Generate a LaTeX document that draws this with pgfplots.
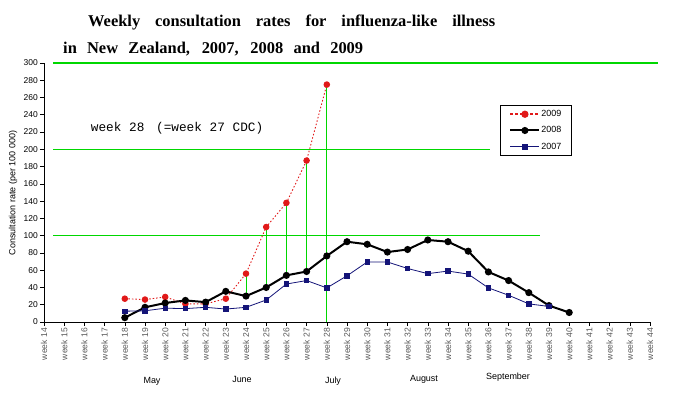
\documentclass[border=0pt]{standalone}
\usepackage{fontspec}
\setmainfont{Liberation Sans}
\newfontfamily\titlefont{Liberation Serif}
\newfontfamily\cour{Liberation Mono}
\usepackage{pgfplots}
\pgfplotsset{compat=1.18}
\definecolor{red09}{RGB}{225,25,25}
\definecolor{navy07}{RGB}{20,20,120}
\definecolor{gline}{RGB}{0,215,0}
\begin{document}
\begin{tikzpicture}
\useasboundingbox (0bp,0bp) rectangle (700bp,400bp);
\begin{axis}[
  at={(44bp,78bp)}, anchor=south west,
  width=606bp, height=259bp, scale only axis,
  xmin=14, xmax=44, ymin=0, ymax=300,
  clip=false,
  axis lines=left,
  axis line style={-, black, line width=0.8bp},
  /pgf/number format/assume math mode=true,
  xtick={14,...,44},
  xticklabel={week \pgfmathprintnumber{\tick}},
  xticklabel style={rotate=90, anchor=east, font=\fontsize{8.6}{9}\selectfont, text=black!65, inner sep=2bp},
  ytick={0,20,...,300},
  yticklabel style={font=\fontsize{8.5}{10}\selectfont, inner sep=2bp},
  tick align=outside, major tick length=4bp,
  tick style={black, line width=0.6bp},
  legend style={at={(rel axis cs:0.7525,0.838)}, anchor=north west, draw=black, line width=0.8bp,
    font=\fontsize{9}{10}\selectfont, inner xsep=9bp, inner ysep=4bp, row sep=6.5bp,
    nodes={inner sep=1bp}},
  legend cell align=left,
  legend image code/.code={\draw[mark repeat=2,mark phase=2,#1] plot coordinates {(0bp,0bp) (14.5bp,0bp) (29bp,0bp)};},
]
% green guide lines (background)
\addplot[gline, line width=1.4bp, forget plot] coordinates {(14.45,300)(44.4,300)};
\addplot[gline, line width=1.4bp, forget plot] coordinates {(14.45,200)(36.1,200)};
\addplot[gline, line width=1.4bp, forget plot] coordinates {(14.45,100)(38.55,100)};
% 2009
\addplot[red09, line width=0.9bp, dash pattern=on 1.5bp off 2bp, mark=*, mark size=2.8bp, mark options={solid, fill=red09, draw=red09},
  legend image code/.code={\draw[mark repeat=2,mark phase=2,red09,line width=1.6bp,dash pattern=on 3bp off 2bp,mark=*,mark size=2.8bp,mark options={solid,fill=red09}] plot coordinates {(0bp,0bp) (14.5bp,0bp) (29bp,0bp)};}]
  coordinates {(18,27)(19,26)(20,29)(21,21)(22,21)(23,27)(24,56)(25,110)(26,138)(27,187)(28,275)};
\addlegendentry{2009}
% 2008
\addplot[black, line width=2bp, mark=*, mark size=2.5bp, mark options={solid, fill=black}]
  coordinates {(18,5)(19,17)(20,22)(21,25)(22,23)(23,35.5)(24,30)(25,40)(26,54)(27,58.5)(28,76.5)
  (29,93)(30,90)(31,81)(32,84)(33,95)(34,93)(35,82)(36,58)(37,48)(38,34)(39,19)(40,11)};
\addlegendentry{2008}
% 2007
\addplot[navy07, line width=0.8bp, mark=square*, mark size=2.2bp, mark options={solid, fill=navy07}]
  coordinates {(18,12.5)(19,13)(20,16)(21,15.5)(22,17)(23,15)(24,17)(25,25.5)(26,44)(27,48)(28,39.5)
  (29,53.5)(30,69.5)(31,69.5)(32,62)(33,56)(34,59)(35,55.5)(36,39.5)(37,31)(38,21)(39,18)};
\addlegendentry{2007}
% green vertical lines
\addplot[gline, line width=1bp, forget plot] coordinates {(24,30)(24,56)};
\addplot[gline, line width=1bp, forget plot] coordinates {(25,40)(25,110)};
\addplot[gline, line width=1bp, forget plot] coordinates {(26,54)(26,138)};
\addplot[gline, line width=1bp, forget plot] coordinates {(27,58.5)(27,187)};
\addplot[gline, line width=1bp, forget plot] coordinates {(28,0)(28,275)};
\end{axis}
% titles
\node[anchor=base west, inner sep=0, font=\titlefont\bfseries\fontsize{16.5}{18}\selectfont] at (88bp,373bp)
  {\makebox[407bp][s]{Weekly consultation rates for influenza-like illness}};
\node[anchor=base west, inner sep=0, font=\titlefont\bfseries\fontsize{16.5}{18}\selectfont] at (63bp,346bp)
  {\makebox[300bp][s]{in New Zealand, 2007, 2008 and 2009}};
% annotation
\node[anchor=base west, inner sep=0, font=\cour\fontsize{12.8}{14}\selectfont] at (90.7bp,268.3bp)
  {week 28\hspace{4bp} (=week 27 CDC)};
% y label
\node[rotate=90, inner sep=0, font=\fontsize{9}{10}\selectfont] at (13bp,207bp) {Consultation rate (per 100 000)};
% months
\node[font=\fontsize{9}{10}\selectfont] at (152bp,19bp) {May};
\node[font=\fontsize{9}{10}\selectfont] at (242bp,21bp) {June};
\node[font=\fontsize{9}{10}\selectfont] at (333bp,19bp) {July};
\node[font=\fontsize{9}{10}\selectfont] at (424bp,21bp) {August};
\node[font=\fontsize{9}{10}\selectfont] at (508bp,23bp) {September};
\end{tikzpicture}
\end{document}
